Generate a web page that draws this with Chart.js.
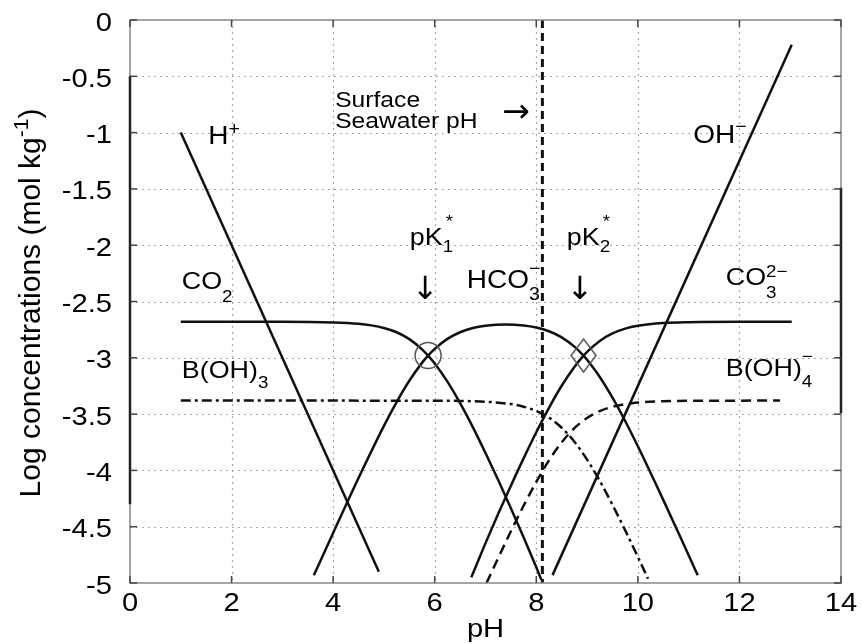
<!DOCTYPE html>
<html>
<head>
<meta charset="utf-8">
<script src="https://cdn.jsdelivr.net/npm/chart.js@4.4.0/dist/chart.umd.min.js"></script>
<style>
  html, body { margin: 0; padding: 0; background: #fff; }
  canvas { display: block; }
</style>
</head>
<body>
<canvas id="chart" width="862" height="644"></canvas>
<script>
// ---- data (pH vs log concentration) ----
const xTicks = [0, 2, 4, 6, 8, 10, 12, 14];
const yTicks = [0, -0.5, -1, -1.5, -2, -2.5, -3, -3.5, -4, -4.5, -5];

const hPH = [1.0, 4.9];
const hLog = [-1.0, -4.9];

const ohPH = [8.32, 13.03];
const ohLog = [-4.93, -0.22];

const co2PH = [1.0, 3.0, 4.0, 4.5, 4.75, 5.0, 5.25, 5.5, 5.75, 5.87, 6.0, 6.25, 6.5, 6.75, 7.0, 7.25, 7.5, 7.75, 8.0, 8.1];
const co2Log = [-2.68, -2.68, -2.686, -2.698, -2.712, -2.735, -2.773, -2.834, -2.925, -2.981, -3.051, -3.212, -3.403, -3.616, -3.846, -4.086, -4.336, -4.593, -4.861, -4.972];

const hco3PH = [3.62, 4.0, 4.5, 5.0, 5.25, 5.5, 5.75, 5.87, 6.0, 6.25, 6.5, 6.75, 7.0, 7.4, 7.75, 8.0, 8.25, 8.5, 8.75, 8.93, 9.0, 9.25, 9.5, 9.75, 10.0, 10.5, 11.0, 11.18];
const hco3Log = [-4.932, -4.556, -4.068, -3.605, -3.393, -3.204, -3.045, -2.981, -2.921, -2.832, -2.773, -2.736, -2.716, -2.705, -2.713, -2.731, -2.764, -2.818, -2.901, -2.981, -3.018, -3.170, -3.354, -3.561, -3.786, -4.262, -4.754, -4.932];

const co3PH = [6.72, 7.0, 7.25, 7.5, 7.75, 8.0, 8.25, 8.5, 8.75, 8.93, 9.0, 9.25, 9.5, 9.75, 10.0, 10.5, 11.0, 12.0, 13.03];
const co3Log = [-4.95, -4.646, -4.386, -4.136, -3.893, -3.661, -3.444, -3.248, -3.081, -2.981, -2.947, -2.850, -2.784, -2.741, -2.716, -2.692, -2.684, -2.68, -2.68];

const boh3PH = [1.0, 6.0, 6.5, 7.0, 7.5, 7.75, 8.0, 8.25, 8.5, 8.75, 9.0, 9.25, 9.5, 9.75, 10.0, 10.2];
const boh3Log = [-3.38, -3.381, -3.383, -3.39, -3.411, -3.434, -3.472, -3.531, -3.621, -3.745, -3.904, -4.093, -4.305, -4.532, -4.768, -4.962];

const boh4PH = [7.02, 7.25, 7.5, 7.75, 8.0, 8.25, 8.5, 8.75, 9.0, 9.25, 9.5, 10.0, 10.5, 11.0, 12.8];
const boh4Log = [-5.0, -4.778, -4.541, -4.314, -4.102, -3.911, -3.751, -3.625, -3.534, -3.473, -3.435, -3.398, -3.386, -3.382, -3.38];

const seawaterPH = 8.12;
const pK1 = 5.87;
const pK2 = 8.93;
const pKLog = -2.98;

// ---- text helpers ----
const FONT = '"Liberation Sans", Arial, Helvetica, sans-serif';
const ARROW_FONT = '"DejaVu Sans", sans-serif';
const SX = 1.12; // the source lettering is a little wide

function measure(ctx, s, size, sx, fam) {
  ctx.font = size + 'px ' + (fam || FONT);
  return ctx.measureText(s).width * sx;
}

function put(ctx, s, x, y, size, sx, fam) {
  ctx.save();
  ctx.font = size + 'px ' + (fam || FONT);
  ctx.translate(x, y);
  ctx.scale(sx, 1);
  ctx.textAlign = 'left';
  ctx.fillText(s, 0, 0);
  ctx.restore();
}

// parts: plain strings or {sub, sup} stacked at the same x
function rich(ctx, x, y, parts, size, opt) {
  opt = opt || {};
  const sx = opt.sx || SX;
  const fam = opt.font;
  const small = size * 0.7;
  const subDy = (opt.subDy != null ? opt.subDy : 0.48) * size;
  const supDy = (opt.supDy != null ? opt.supDy : 0.35) * size;
  const widths = parts.map(p => typeof p === 'string'
    ? measure(ctx, p, size, sx, fam)
    : Math.max(p.sub ? measure(ctx, p.sub, small, sx, fam) : 0, p.sup ? measure(ctx, p.sup, small, sx, fam) : 0));
  const total = widths.reduce((a, b) => a + b, 0);
  let cx = opt.align === 'center' ? x - total / 2 : x;
  parts.forEach((p, i) => {
    if (typeof p === 'string') {
      put(ctx, p, cx, y, size, sx, fam);
    } else {
      if (p.sub) put(ctx, p.sub, cx, y + subDy, small, sx, fam);
      if (p.sup) put(ctx, p.sup, cx + (opt.supDx || 0), y - supDy, small, sx, fam);
    }
    cx += widths[i];
  });
}

const labels = [
  { x: 1.54, y: -1.10, size: 25, parts: ['H', { sup: '+' }] },
  { x: 11.09, y: -1.095, size: 25, parts: ['OH', { sup: '\u2212' }], opt: { supDy: 0.45 } },
  { x: 1.02, y: -2.39, size: 24, parts: ['CO', { sub: '2' }], opt: { subDy: 0.52 } },
  { x: 1.02, y: -3.18, size: 24, parts: ['B(OH)', { sub: '3' }], opt: { subDy: 0.4 } },
  { x: 11.73, y: -2.35, size: 24, parts: ['CO', { sub: '3', sup: '2\u2212' }], opt: { subDy: 0.55, supDy: 0.3 } },
  { x: 11.73, y: -3.16, size: 24, parts: ['B(OH)', { sub: '4', sup: '\u2212' }], opt: { subDy: 0.45, supDy: 0.58 } },
  { x: 6.63, y: -2.38, size: 25, parts: ['HCO', { sub: '3', sup: '\u2212' }], opt: { subDy: 0.48, supDy: 0.55 } },
  { x: 5.51, y: -2.0, size: 24, parts: ['pK', { sub: '1', sup: '*' }], opt: { subDy: 0.28, supDy: 0.76, supDx: 3 } },
  { x: 8.6, y: -2.0, size: 24, parts: ['pK', { sub: '2', sup: '*' }], opt: { subDy: 0.28, supDy: 0.76, supDx: 3 } },
  { x: 4.04, y: -0.77, size: 22, parts: ['Surface'] },
  { x: 4.04, y: -0.96, size: 22, parts: ['Seawater pH'] }
];

// arrows, centred on their point
const arrows = [
  { x: 5.81, y: -2.40, size: 32, text: '\u2193' },
  { x: 8.86, y: -2.40, size: 32, text: '\u2193' },
  { x: 7.6, y: -0.826, size: 33, text: '\u2192' }
];

// elongated diamond marker for pK2
const diamond = document.createElement('canvas');
diamond.width = 27; diamond.height = 35;
(function() {
  const d = diamond.getContext('2d');
  d.strokeStyle = '#555';
  d.lineWidth = 1.5;
  d.beginPath();
  d.moveTo(13.5, 1); d.lineTo(26, 17.5); d.lineTo(13.5, 34); d.lineTo(1, 17.5); d.closePath();
  d.stroke();
})();

function series(xs, ys, extra) {
  return Object.assign({
    data: xs.map((v, i) => ({ x: v, y: ys[i] })),
    borderColor: '#111',
    borderWidth: 2.5,
    pointRadius: 0,
    fill: false,
    cubicInterpolationMode: 'monotone'
  }, extra || {});
}

const straight = { cubicInterpolationMode: 'default', tension: 0 };

const decor = {
  id: 'decor',
  beforeDatasetsDraw(chart) {
    const { ctx, chartArea: a, scales: { x, y } } = chart;
    ctx.save();
    ctx.strokeStyle = '#a8a8a8';
    ctx.lineWidth = 1.2;
    ctx.setLineDash([2, 4]);
    xTicks.slice(1, -1).forEach(v => {
      const px = Math.round(x.getPixelForValue(v)) + 0.5;
      ctx.beginPath(); ctx.moveTo(px, a.top); ctx.lineTo(px, a.bottom); ctx.stroke();
    });
    yTicks.slice(1, -1).forEach(v => {
      const py = Math.round(y.getPixelForValue(v)) + 0.5;
      ctx.beginPath(); ctx.moveTo(a.left, py); ctx.lineTo(a.right, py); ctx.stroke();
    });
    ctx.restore();
  },
  afterDatasetsDraw(chart) {
    const { ctx, chartArea: a, scales: { x, y } } = chart;
    ctx.save();
    ctx.strokeStyle = '#888';
    ctx.lineWidth = 1.5;
    ctx.strokeRect(a.left, a.top, a.right - a.left, a.bottom - a.top);
    // darker stretches of the frame seen in the scan
    ctx.strokeStyle = '#222';
    ctx.lineWidth = 2.5;
    ctx.beginPath(); ctx.moveTo(a.left, y.getPixelForValue(-0.5)); ctx.lineTo(a.left, y.getPixelForValue(-4.3)); ctx.stroke();
    ctx.beginPath(); ctx.moveTo(a.right, y.getPixelForValue(-1.49)); ctx.lineTo(a.right, y.getPixelForValue(-3.49)); ctx.stroke();
    // inward ticks
    ctx.strokeStyle = '#444';
    ctx.lineWidth = 1.5;
    const t = 7;
    xTicks.forEach(v => {
      const px = x.getPixelForValue(v);
      ctx.beginPath(); ctx.moveTo(px, a.bottom); ctx.lineTo(px, a.bottom - t); ctx.stroke();
      ctx.beginPath(); ctx.moveTo(px, a.top); ctx.lineTo(px, a.top + t); ctx.stroke();
    });
    yTicks.forEach(v => {
      const py = y.getPixelForValue(v);
      ctx.beginPath(); ctx.moveTo(a.left, py); ctx.lineTo(a.left + t, py); ctx.stroke();
      ctx.beginPath(); ctx.moveTo(a.right, py); ctx.lineTo(a.right - t, py); ctx.stroke();
    });
    ctx.restore();
  },
  afterDraw(chart) {
    const { ctx, chartArea: a, scales: { x, y } } = chart;
    ctx.save();
    ctx.fillStyle = '#000';
    ctx.textBaseline = 'alphabetic';
    // tick labels
    yTicks.forEach(v => {
      const s = String(v);
      const w = measure(ctx, s, 26, SX);
      put(ctx, s, a.left - 18 - w, y.getPixelForValue(v) + 10.5, 26, SX);
    });
    xTicks.forEach(v => {
      const s = String(v);
      const w = measure(ctx, s, 26, SX);
      put(ctx, s, x.getPixelForValue(v) - w / 2, a.bottom + 28, 26, SX);
    });
    // axis titles
    rich(ctx, (a.left + a.right) / 2, 637, ['pH'], 26, { align: 'center' });
    ctx.save();
    ctx.translate(40, 303);
    ctx.rotate(-Math.PI / 2);
    rich(ctx, 0, 0, ['Log concentrations (mol kg', { sup: '-1' }, ')'], 30, { align: 'center', sx: 1, supDy: 0.4 });
    ctx.restore();
    // species and annotation labels
    labels.forEach(l => {
      rich(ctx, x.getPixelForValue(l.x), y.getPixelForValue(l.y), l.parts, l.size, l.opt);
    });
    ctx.textBaseline = 'middle';
    arrows.forEach(r => {
      rich(ctx, x.getPixelForValue(r.x), y.getPixelForValue(r.y), [r.text], r.size, { align: 'center', sx: 1, font: ARROW_FONT });
    });
    ctx.restore();
  }
};

new Chart(document.getElementById('chart').getContext('2d'), {
  type: 'line',
  data: {
    datasets: [
      { data: [{ x: pK1, y: pKLog }], showLine: false, pointStyle: 'circle', pointRadius: 13,
        pointBorderColor: '#555', pointBackgroundColor: 'rgba(0,0,0,0)', pointBorderWidth: 1.5 },
      { data: [{ x: pK2, y: pKLog }], showLine: false, pointStyle: diamond, pointRadius: 14 },
      series(hPH, hLog, straight),
      series(ohPH, ohLog, straight),
      series(co2PH, co2Log),
      series(hco3PH, hco3Log),
      series(co3PH, co3Log),
      series(boh3PH, boh3Log, { borderDash: [10, 4, 3, 4] }),
      series(boh4PH, boh4Log, { borderDash: [10, 6] }),
      series([seawaterPH, seawaterPH], [0, -5], Object.assign({ borderDash: [8, 5], borderWidth: 3 }, straight))
    ]
  },
  options: {
    responsive: false,
    animation: false,
    events: [],
    layout: { padding: { left: 0, right: 21, top: 20, bottom: 0 } },
    plugins: { legend: { display: false }, tooltip: { enabled: false } },
    scales: {
      x: {
        type: 'linear', min: 0, max: 14,
        ticks: { display: false, stepSize: 2 },
        grid: { display: false },
        border: { display: false },
        afterFit: s => { s.height = 61; }
      },
      y: {
        type: 'linear', min: -5, max: 0,
        ticks: { display: false, stepSize: 0.5 },
        grid: { display: false },
        border: { display: false },
        afterFit: s => { s.width = 130; }
      }
    }
  },
  plugins: [decor]
});
</script>
</body>
</html>
